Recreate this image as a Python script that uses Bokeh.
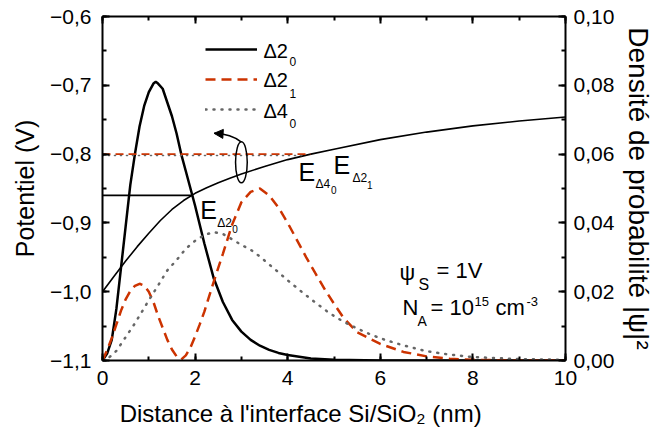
import numpy as np
from bokeh.plotting import figure
from bokeh.models import (Range1d, LinearAxis, SingleIntervalTicker, CustomJSTickFormatter,
                          Label, Legend, LegendItem, Arrow, NormalHead)
from bokeh.embed import file_html
from bokeh.resources import INLINE

# ---------------- data ----------------
# electrostatic potential (V) vs distance (nm)
pot_x = [0, 0.25, 0.5, 0.75, 1.0, 1.25, 1.5, 1.75, 2.0, 2.25, 2.5, 2.75, 3.0, 3.5, 4.0, 4.5, 5.0,
         6.0, 7.0, 8.0, 9.0, 10.0]
pot_v = [-1.000, -0.9775, -0.9555, -0.9345, -0.915, -0.8965, -0.8805, -0.8675, -0.857, -0.849,
         -0.8415, -0.835, -0.829, -0.818, -0.808, -0.800, -0.793, -0.779, -0.768, -0.759, -0.752,
         -0.746]

# probability densities |psi|^2
d20_x = [0, 0.1, 0.2, 0.3, 0.4, 0.5, 0.6, 0.7, 0.8, 0.9, 1.0, 1.1, 1.15, 1.2, 1.3, 1.4, 1.5, 1.6, 1.7,
         1.8, 1.9, 2.0, 2.2, 2.4, 2.6, 2.8, 3.0, 3.2, 3.4, 3.6, 3.8, 4.0, 4.5, 5.0, 6.0, 8.0, 10.0]
d20_y = [0, 0.002, 0.006, 0.015, 0.027, 0.039, 0.051, 0.060, 0.068, 0.074, 0.078, 0.0805, 0.081,
         0.0805, 0.079, 0.075, 0.071, 0.066, 0.060, 0.055, 0.050, 0.045, 0.034, 0.024, 0.017, 0.0118,
         0.0084, 0.006, 0.0043, 0.0031, 0.0022, 0.0016, 0.0006, 0.0002, 0, 0, 0]

d21_x = [0, 0.1, 0.2, 0.3, 0.4, 0.5, 0.6, 0.7, 0.8, 0.9, 1.0, 1.1, 1.2, 1.3, 1.4, 1.5, 1.6, 1.7, 1.8,
         1.9, 2.0, 2.1, 2.2, 2.4, 2.6, 2.8, 3.0, 3.2, 3.4, 3.6, 3.8, 4.0, 4.2, 4.4, 4.6, 4.8, 5.0, 5.2,
         5.5, 6.0, 6.5, 7.0, 7.5, 8.0, 9.0, 10.0]
d21_y = [0, 0.003, 0.0065, 0.0105, 0.0145, 0.0178, 0.0202, 0.0217, 0.0223, 0.0218, 0.020, 0.017,
         0.013, 0.0095, 0.006, 0.0032, 0.0012, 0.0003, 0.0015, 0.0038, 0.007, 0.0105, 0.0142, 0.0228,
         0.031, 0.0395, 0.046, 0.049, 0.050, 0.048, 0.0445, 0.040, 0.035, 0.030, 0.0253, 0.0207,
         0.0165, 0.0125, 0.0082, 0.0048, 0.0025, 0.0012, 0.0005, 0.0002, 0.0, 0.0]

d40_x = [0, 0.1, 0.2, 0.3, 0.5, 0.7, 1.0, 1.2, 1.4, 1.6, 1.8, 2.0, 2.2, 2.4, 2.6, 2.8, 3.0, 3.2, 3.4,
         3.7, 4.0, 4.3, 4.6, 4.9, 5.2, 5.5, 5.8, 6.1, 6.5, 7.0, 7.5, 8.0, 9.0, 10.0]
d40_y = [0, 0.0005, 0.0015, 0.0028, 0.0068, 0.0108, 0.0175, 0.0218, 0.0262, 0.0292, 0.0325, 0.0348,
         0.0365, 0.0373, 0.0368, 0.0352, 0.0336, 0.0322, 0.0302, 0.0268, 0.0233, 0.020, 0.0168,
         0.0138, 0.0113, 0.0093, 0.0075, 0.006, 0.0044, 0.0027, 0.0017, 0.001, 0.0004, 0.0002]

# subband energy levels (V)
level_names = [("Δ2", "0"), ("Δ2", "1"), ("Δ4", "0")]
level_e = [-0.860, -0.800, -0.802]

x_ticks_interval = 2
y_ticks_interval = 0.1
dens_ticks_interval = 0.02

FONT = "Liberation Sans"
RED = "#cc3300"
GREY = "#666666"
NBSP = "\u00a0"

# frame geometry (canvas pixels) used to place the free-standing texts
FX0, FY0, PX_PER_NM, PX_PER_V = 102, 16, 46.3, 688

p = figure(width=657, height=441, x_range=Range1d(0, 10), y_range=Range1d(-1.1, -0.6),
           output_backend="svg", toolbar_location=None,
           min_border_left=102, min_border_right=92, min_border_top=16, min_border_bottom=81)
p.extra_y_ranges = {"dens": Range1d(0, 0.1)}
p.xgrid.visible = False
p.ygrid.visible = False
p.outline_line_color = None


def style_axis(ax, interval, code):
    ax.ticker = SingleIntervalTicker(interval=interval, num_minor_ticks=2)
    ax.formatter = CustomJSTickFormatter(code=code)
    ax.axis_line_width = 2
    ax.major_tick_line_width = 2
    ax.minor_tick_line_width = 2
    ax.major_tick_in = 7
    ax.major_tick_out = 0
    ax.minor_tick_in = 4
    ax.minor_tick_out = 0
    ax.major_label_text_font = FONT
    ax.major_label_text_font_size = "21px"
    ax.major_label_text_color = "black"
    ax.axis_label_text_font = FONT
    ax.axis_label_text_font_size = "25px"
    ax.axis_label_text_font_style = "normal"
    ax.axis_label_text_color = "black"


bottom = p.xaxis[0]
style_axis(bottom, x_ticks_interval, "return tick.toFixed(0);")
# trailing no-break spaces shift the centred title to the left, as in the original
bottom.axis_label = "Distance à l'interface Si/SiO₂ (nm)" + NBSP * 10
bottom.axis_label_text_font_size = "24px"
bottom.major_label_standoff = 10
bottom.axis_label_standoff = 12

left = p.yaxis[0]
style_axis(left, y_ticks_interval, "return tick.toFixed(1).replace('.', ',').replace('-', '\u2212');")
left.axis_label = "Potentiel (V)"
left.major_label_standoff = 11
left.axis_label_standoff = 8

right = LinearAxis(y_range_name="dens")
style_axis(right, dens_ticks_interval, "return tick.toFixed(2).replace('.', ',');")
right.axis_label = "Densité de probabilité |ψ|²"
right.axis_label_text_font_size = "28px"
right.major_label_standoff = 8
right.axis_label_standoff = 6
p.add_layout(right, "right")

top = LinearAxis()
style_axis(top, x_ticks_interval, "return '';")
top.major_label_text_font_size = "0px"
top.major_label_standoff = 0
p.add_layout(top, "above")

# ---------------- curves ----------------
p.line(pot_x, pot_v, line_color="black", line_width=1.6)

r20 = p.line(d20_x, d20_y, y_range_name="dens", line_color="black", line_width=2.5)
r21 = p.line(d21_x, d21_y, y_range_name="dens", line_color=RED, line_width=2.5, line_dash="10 6")
r40 = p.line(d40_x, d40_y, y_range_name="dens", line_color=GREY, line_width=2.5,
             line_dash="1 7", line_cap="round")

# energy levels, from the interface to the potential curve
lvl_styles = [dict(line_color="black"),
              dict(line_color=RED, line_dash="8 5"),
              dict(line_color=GREY, line_dash="1 5", line_cap="round")]
for e, st in zip(level_e, lvl_styles):
    x_end = float(np.interp(e, pot_v, pot_x))
    p.line([0, x_end], [e, e], line_width=1.6, **st)

# ellipse + curved arrow
p.ellipse(x=3.0, y=-0.812, width=0.253, height=0.0596, fill_alpha=0,
          line_color="black", line_width=1.5)
p.quadratic(x0=3.0, y0=-0.7827, x1=2.41, y1=-0.7698, cx=2.78, cy=-0.7705,
            line_color="black", line_width=1.5)
p.add_layout(Arrow(end=NormalHead(size=9, fill_color="black", line_color="black"),
                   x_start=2.6, y_start=-0.7706, x_end=2.41, y_end=-0.7698, line_width=1.5,
                   line_color="black"))

# ---------------- legend (sample lines; texts drawn as labels below) ----------------
legend = Legend(items=[LegendItem(label=" ", renderers=[r20]),
                       LegendItem(label=" ", renderers=[r21]),
                       LegendItem(label=" ", renderers=[r40])],
                location=(103, 236), padding=0, margin=0, spacing=0,
                glyph_width=52, glyph_height=30, label_height=30, label_standoff=6,
                label_text_font=FONT, label_text_font_size="20px",
                border_line_alpha=0, background_fill_alpha=0)
p.add_layout(legend, "center")


def txt(px, base_py, s, size):
    """Place text whose left edge is at canvas x=px and whose baseline is at canvas y=base_py."""
    mid_py = base_py - 0.3465 * size
    p.add_layout(Label(x=(px - FX0) / PX_PER_NM, y=-0.6 - (mid_py - FY0) / PX_PER_V,
                       text=s, text_font=FONT, text_font_size=f"{size}px",
                       text_baseline="middle", text_align="left", text_color="black"))


# legend texts
for (base, sub), yb, ys in zip(level_names, [57.7, 86.7, 117.3], [65.0, 97.3, 127.3]):
    txt(263, yb, base, 20)
    txt(289, ys, sub, 12)

# level labels
txt(298, 180, "E", 25)
txt(315, 188, "Δ4", 12)
txt(330.5, 193, "0", 10)
txt(333, 173, "E", 25)
txt(352, 182, "Δ2", 12)
txt(366.5, 187.5, "1", 10)
txt(199.7, 218, "E", 25)
txt(216.7, 226.7, "Δ2", 12)
txt(231.7, 231.7, "0", 10)

# conditions
txt(399, 280, "ψ", 22)
txt(418, 290, "S", 16)
txt(436, 278, "= 1V", 22)
txt(402, 315, "N", 22)
txt(417, 325, "A", 14)
txt(430, 315, "= 10", 22)
txt(474, 306, "15", 13)
txt(495, 315, "cm", 22)
txt(526, 306, "-3", 13)

open("out.html", "w").write(file_html(p, INLINE))
